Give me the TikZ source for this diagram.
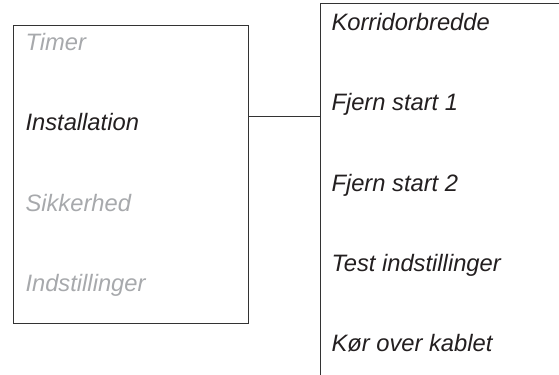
\documentclass[tikz,border=0pt]{standalone}
\usepackage{fontspec}
\setmainfont{Liberation Sans}
\usepackage{xcolor}
\usepackage{tikz}
\usetikzlibrary{positioning,calc}
\definecolor{inkdark}{HTML}{231F20}
\definecolor{inkgrey}{HTML}{A7A9AC}
\definecolor{framegrey}{HTML}{333333}

\begin{document}
\begin{tikzpicture}[x=0.75pt, y=-0.75pt, line width=0.75pt,
  menuitem/.style={anchor=base west, inner sep=0pt, font=\fontsize{17.8}{21}\selectfont\itshape},
  active/.style={menuitem, text=inkdark},
  inactive/.style={menuitem, text=inkgrey}]
  \useasboundingbox (0,0) rectangle (559,374);
  \clip (0,0) rectangle (559,374);

  % main menu
  \node[draw=framegrey, anchor=north west, inner sep=0pt, minimum width=176.25pt, minimum height=223.5pt] (menu) at (13,25) {};
  \node[inactive] (timer) at (25,51) {Timer};
  \node[active] (install) at (25,131) {Installation};
  \node[inactive] (safety) at (25,211) {Sikkerhed};
  \node[inactive] (settings) at (25,291) {Indstillinger};

  % sub menu (runs off the page)
  \node[anchor=north west, inner sep=0pt, minimum width=240pt, minimum height=300pt] (submenu) at (320,4) {};
  \draw[framegrey] (submenu.south west) -- (submenu.north west) -- (submenu.north east);
  \node[active] (width) at (331,31) {Korridorbredde};
  \node[active] (remote1) at (331,111) {Fjern start 1};
  \node[active] (remote2) at (331,191) {Fjern start 2};
  \node[active] (test) at (331,271) {Test indstillinger};
  \node[active] (cable) at (331,351) {Kør over kablet};

  \coordinate (link) at (0,117);
  \draw[framegrey] (menu.east |- link) -- (submenu.west |- link);
\end{tikzpicture}
\end{document}
